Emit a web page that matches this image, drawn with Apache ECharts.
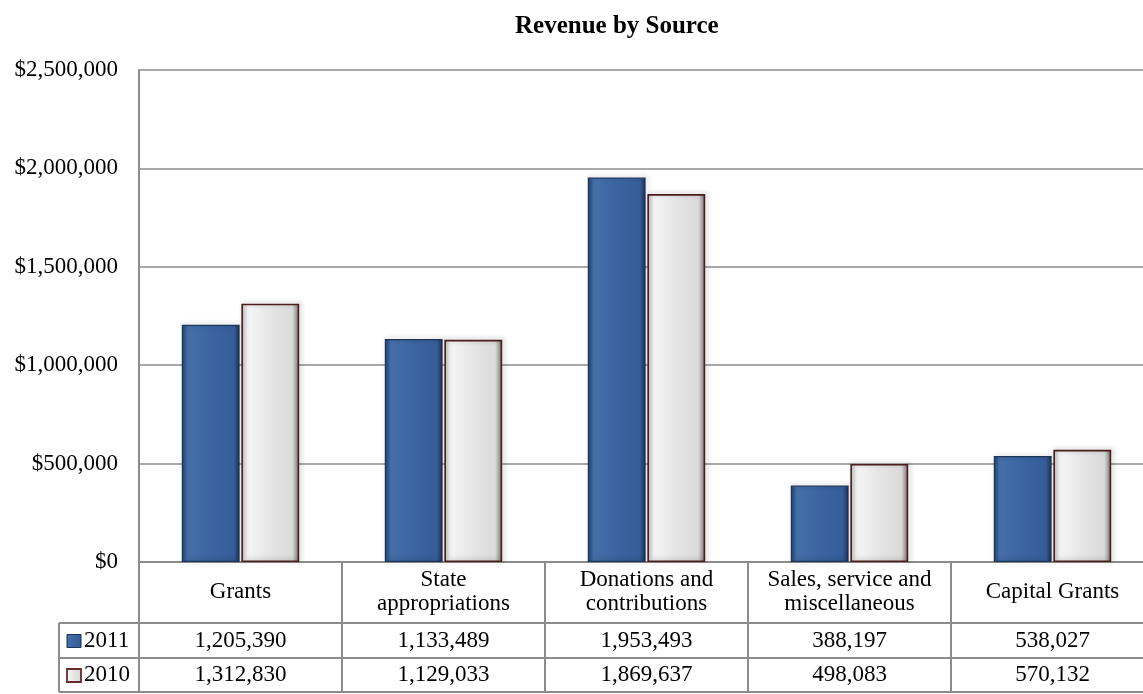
<!DOCTYPE html>
<html>
<head>
<meta charset="utf-8">
<script src="https://cdn.jsdelivr.net/npm/echarts@6/dist/echarts.min.js"></script>
<style>
html,body{margin:0;padding:0;background:#fff;overflow:hidden;width:1143px;height:694px;}
#main{width:1160px;height:694px;}
</style>
</head>
<body>
<div id="main"></div>
<script>
var titleText = 'Revenue by Source';
var categories = ['Grants', 'State\nappropriations', 'Donations and\ncontributions', 'Sales, service and\nmiscellaneous', 'Capital Grants'];
var seriesNames = ['2011', '2010'];
var values2011 = [1205390, 1133489, 1953493, 388197, 538027];
var values2010 = [1312830, 1129033, 1869637, 498083, 570132];
var yTicks = [0, 500000, 1000000, 1500000, 2000000, 2500000];

var FONT = '"Liberation Serif", "Times New Roman", serif';
var FS = 23;
var LINE = '#8c8c8c';

function fmt(v){ return v.toString().replace(/\B(?=(\d{3})+(?!\d))/g, ','); }

var blueFill = new echarts.graphic.LinearGradient(0,0,1,0,[
  {offset:0,color:'#22416f'},{offset:0.1,color:'#4670aa'},{offset:0.5,color:'#3b64a0'},
  {offset:0.9,color:'#365d98'},{offset:1,color:'#1a3158'}]);
var grayFill = new echarts.graphic.LinearGradient(0,0,1,0,[
  {offset:0,color:'#c4c4c4'},{offset:0.1,color:'#f6f6f6'},{offset:0.5,color:'#e5e5e5'},
  {offset:0.88,color:'#dadada'},{offset:1,color:'#777777'}]);

var chart = echarts.init(document.getElementById('main'));
var option = {
  animation: false,
  backgroundColor: '#fff',
  title: {
    text: titleText, left: 510, top: 9,
    textStyle: {fontFamily: FONT, fontSize: 25, fontWeight: 'bold', color: '#000'}
  },
  grid: {left: 139, top: 70, right: 6, bottom: 132},
  xAxis: {
    type: 'category', data: categories,
    axisLine: {show: true, lineStyle: {color: LINE, width: 2}},
    axisTick: {show: false},
    axisLabel: {interval: 0, fontFamily: FONT, fontSize: FS, color: '#000', lineHeight: 24,
      margin: 30, verticalAlign: 'middle', align: 'center'}
  },
  yAxis: {
    type: 'value', min: 0, max: 2500000, interval: 500000,
    axisLine: {show: true, lineStyle: {color: LINE, width: 2}},
    axisTick: {show: false},
    axisLabel: {fontFamily: FONT, fontSize: FS, color: '#000', margin: 21,
      formatter: function(v){ return yTicks.indexOf(v) >= 0 ? '$' + fmt(v) : ''; }},
    splitLine: {show: true, lineStyle: {color: LINE, width: 1.5}}
  },
  series: [
    {name: seriesNames[0], type: 'bar', data: values2011, barWidth: '28.5%', barGap: '3%', barCategoryGap: '41%',
      itemStyle: {color: blueFill, borderColor: '#1b3459', borderWidth: 1.2,
        shadowColor: 'rgba(0,0,0,0.3)', shadowBlur: 5, shadowOffsetX: 2, shadowOffsetY: -1}},
    {name: seriesNames[1], type: 'bar', data: values2010, barWidth: '28.5%',
      itemStyle: {color: grayFill, borderColor: '#4b1c1c', borderWidth: 1.6,
        shadowColor: 'rgba(0,0,0,0.3)', shadowBlur: 5, shadowOffsetX: 2, shadowOffsetY: -1}}
  ]
};
chart.setOption(option);

// Data table drawn beneath the axis, positioned from the axis scale
function buildTable(){
  var n = categories.length;
  var c0 = chart.convertToPixel({xAxisIndex: 0}, 0);
  var c1 = chart.convertToPixel({xAxisIndex: 0}, 1);
  var band = c1 - c0;
  var yBase = chart.convertToPixel({yAxisIndex: 0}, 0);
  var hdrBottom = yBase + 61, row1Bottom = hdrBottom + 35, row2Bottom = row1Bottom + 34;
  var legLeft = 59;
  var gx0 = c0 - band/2;
  var gRight = gx0 + band*n;
  var els = [];
  var ls = {stroke: LINE, lineWidth: 2};
  function line(x1,y1,x2,y2){ els.push({type:'line', shape:{x1:x1,y1:y1,x2:x2,y2:y2}, style:ls, silent:true}); }
  line(legLeft, hdrBottom, gRight, hdrBottom);
  line(legLeft, row1Bottom, gRight, row1Bottom);
  line(legLeft, row2Bottom, gRight, row2Bottom);
  line(legLeft, hdrBottom, legLeft, row2Bottom);
  for (var i = 0; i <= n; i++){
    var x = gx0 + band*i;
    line(x, yBase, x, row2Bottom);
  }
  var rows = [values2011, values2010];
  var rowMid = [(hdrBottom+row1Bottom)/2, (row1Bottom+row2Bottom)/2];
  for (var r = 0; r < 2; r++){
    for (var j = 0; j < n; j++){
      els.push({type:'text', silent:true, x: chart.convertToPixel({xAxisIndex:0}, j), y: rowMid[r],
        style:{text: fmt(rows[r][j]), font: FS + 'px ' + FONT, fill:'#000', align:'center', verticalAlign:'middle'}});
    }
    els.push({type:'text', silent:true, x: 84, y: rowMid[r],
      style:{text: seriesNames[r], font: FS + 'px ' + FONT, fill:'#000', align:'left', verticalAlign:'middle'}});
  }
  els.push({type:'rect', silent:true, shape:{x:67, y:rowMid[0]-6, width:14, height:13},
    style:{fill: blueFill, stroke:'#1b3459', lineWidth:1}});
  els.push({type:'rect', silent:true, shape:{x:67, y:rowMid[1]-6, width:14, height:13},
    style:{fill: grayFill, stroke:'#6b2a2a', lineWidth:1.8}});
  chart.setOption({graphic: {elements: els}});
}
buildTable();
</script>
</body>
</html>
